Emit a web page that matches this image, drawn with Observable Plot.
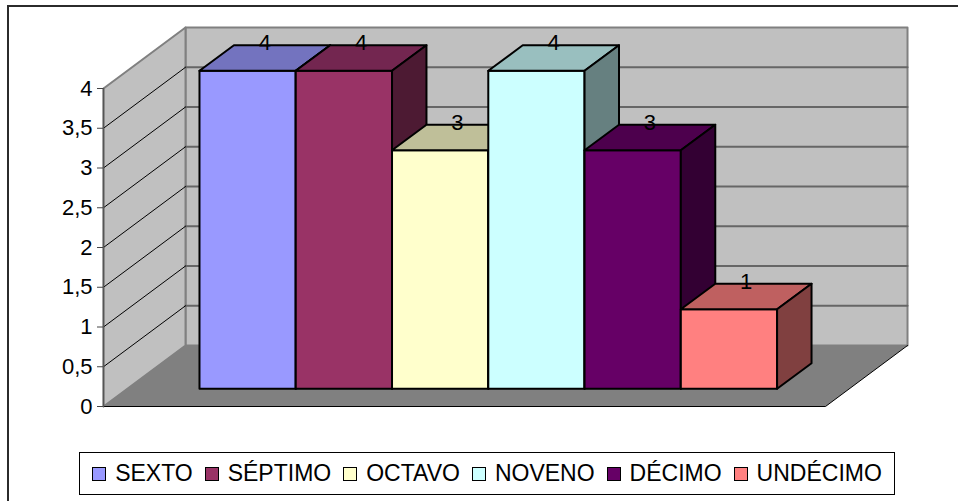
<!DOCTYPE html>
<html>
<head>
<meta charset="utf-8">
<script src="https://cdn.jsdelivr.net/npm/d3@7"></script>
<script src="https://cdn.jsdelivr.net/npm/@observablehq/plot@0.6"></script>
<style>
  body { margin: 0; background: #fff; font-family: "Liberation Sans", Arial, sans-serif; }
  #chart { position: absolute; left: 0; top: 0; }
  #frame { position: absolute; left: 7px; top: 5px; width: 1000px; height: 600px; z-index: 5;
           border-top: 2px solid #2b2b2b; border-left: 2px solid #2b2b2b; pointer-events: none; }
  #legend { position: absolute; left: 79px; top: 452px; width: 814px; height: 41px;
            border: 1px solid #000; background: #fff; display: flex; align-items: center;
            justify-content: center; font-size: 23px; color: #000; }
  .item { display: flex; align-items: center; margin: 0 6px; }
  .sw { width: 12px; height: 12px; border: 1px solid #000; margin-right: 9px; }
</style>
</head>
<body>
<div id="chart"></div>
<div id="frame"></div>
<div id="legend"></div>
<script>
// Grades and the number of answers per grade
const categories = ["SEXTO", "SÉPTIMO", "OCTAVO", "NOVENO", "DÉCIMO", "UNDÉCIMO"];
const values = [4, 4, 3, 4, 3, 1];
const frontColors = ["#9999FF", "#993366", "#FFFFCC", "#CCFFFF", "#660066", "#FF8080"];
const topColors   = ["#7373BF", "#732650", "#BFBF99", "#99BFBF", "#4D004D", "#BF6060"];
const sideColors  = ["#4D4D80", "#4D1A33", "#808066", "#668080", "#330033", "#804040"];
const yTicks = [0, 0.5, 1, 1.5, 2, 2.5, 3, 3.5, 4];
const yTickLabels = ["0", "0,5", "1", "1,5", "2", "2,5", "3", "3,5", "4"];

// 3D box layout, in data units
const X0 = -0.75, X1 = categories.length + 0.75;   // floor extent along the category axis
const YMAX = 4;                                      // wall height
const DX = 0.852, DY = 0.767;                        // oblique shift for full depth
const DF = 0.29, DB = 0.71;                          // front / back depth of the columns

const proj = ([x, v, d]) => ({x: x + d * DX, y: v + d * DY});

function faces(list) {
  const pts = [];
  list.forEach(({corners, fill, stroke}, k) => {
    corners.forEach(c => pts.push({id: k, ...proj(c), fill, stroke}));
  });
  return pts;
}

// walls and floor
const walls = faces([
  {corners: [[X0,0,1],[X1,0,1],[X1,YMAX,1],[X0,YMAX,1]], fill: "#C0C0C0", stroke: "#808080"},
  {corners: [[X0,0,0],[X0,0,1],[X0,YMAX,1],[X0,YMAX,0]], fill: "#C0C0C0", stroke: "#808080"},
  {corners: [[X0,0,0],[X1,0,0],[X1,0,1],[X0,0,1]], fill: "#808080", stroke: "none"}
]);

const grid = yTicks.filter(v => v > 0 && v < YMAX);
const backGrid = grid.flatMap((v, k) => [
  {id: k, ...proj([X0, v, 1])}, {id: k, ...proj([X1, v, 1])}
]);
const sideGrid = grid.flatMap((v, k) => [
  {id: k, ...proj([X0, v, 0])}, {id: k, ...proj([X0, v, 1])}
]);
const floorEdge = [proj([X0,0,0]), proj([X1,0,0]), proj([X1,0,1])];
const axisEdge = [proj([X0,0,0]), proj([X0,YMAX,0])];

// columns, drawn left to right: front, top, right side
const bars = faces(values.flatMap((v, i) => [
  {corners: [[i,0,DF],[i+1,0,DF],[i+1,v,DF],[i,v,DF]], fill: frontColors[i], stroke: "#000"},
  {corners: [[i,v,DF],[i+1,v,DF],[i+1,v,DB],[i,v,DB]], fill: topColors[i], stroke: "#000"},
  {corners: [[i+1,0,DF],[i+1,0,DB],[i+1,v,DB],[i+1,v,DF]], fill: sideColors[i], stroke: "#000"}
]));

const labels = values.map((v, i) => ({x: i + 0.5 + 0.5 * DX, y: v + DB * DY, text: String(v)}));

const chart = Plot.plot({
  width: 958,
  height: 445,
  marginLeft: 103,
  marginRight: 133,
  marginTop: 88,
  marginBottom: 39,
  style: {fontFamily: "'Liberation Sans', Arial, sans-serif", background: "transparent", overflow: "visible"},
  x: {domain: [X0, X1], axis: null},
  y: {domain: [0, YMAX], axis: null},
  color: {type: "identity"},
  marks: [
    Plot.line(walls, {x: "x", y: "y", z: "id", fill: "fill", stroke: "stroke", strokeWidth: 2, curve: "linear-closed"}),
    Plot.line(backGrid, {x: "x", y: "y", z: "id", stroke: "#666666", strokeWidth: 2}),
    Plot.line(sideGrid, {x: "x", y: "y", z: "id", stroke: "#000", strokeWidth: 1}),
    Plot.line(floorEdge, {x: "x", y: "y", stroke: "#000", strokeWidth: 1}),
    Plot.line(axisEdge, {x: "x", y: "y", stroke: "#555", strokeWidth: 1.5}),
    Plot.axisY(yTicks, {
      anchor: "left",
      label: null,
      tickSize: 6,
      tickPadding: 5,
      fontSize: 22,
      stroke: "#444",
      fill: "#000",
      tickFormat: d => yTickLabels[yTicks.indexOf(d)]
    }),
    Plot.line(bars, {x: "x", y: "y", z: "id", fill: "fill", stroke: "stroke", strokeWidth: 2,
                     strokeLinejoin: "round", curve: "linear-closed"}),
    Plot.text(labels, {x: "x", y: "y", text: "text", fontSize: 22, fill: "#000", dy: -2})
  ]
});
document.getElementById("chart").append(chart);

// legend
const legend = d3.select("#legend");
categories.forEach((c, i) => {
  const it = legend.append("div").attr("class", "item");
  it.append("div").attr("class", "sw").style("background", frontColors[i]);
  it.append("span").text(c);
});
</script>
</body>
</html>
